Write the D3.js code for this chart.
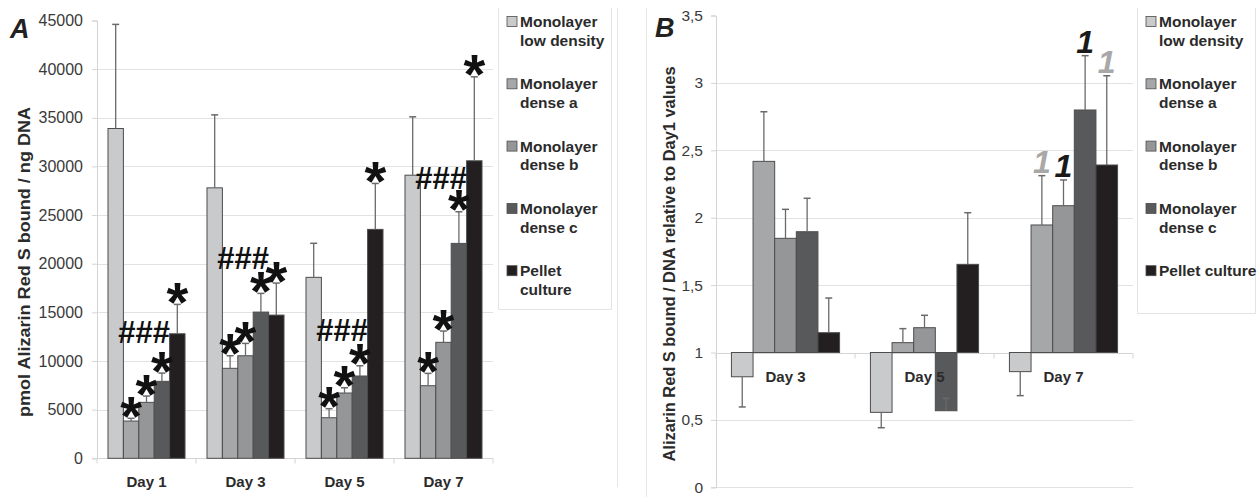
<!DOCTYPE html>
<html>
<head>
<meta charset="utf-8">
<script src="https://cdn.jsdelivr.net/npm/d3@7"></script>
<style>
  html, body { margin: 0; padding: 0; background: #fff; }
  svg { display: block; font-family: "Liberation Sans", Arial, sans-serif; }
</style>
</head>
<body>
<svg id="fig" width="1259" height="497"></svg>
<script>
// ---- data ----
const seriesKeys = ["low", "denseA", "denseB", "denseC", "pellet"];
const seriesColors = ["#c9cacc", "#a6a7a9", "#959698", "#58595b", "#231f20"];

// Panel A: pmol Alizarin Red S bound / ng DNA
const daysA = ["Day 1", "Day 3", "Day 5", "Day 7"];
const lowA    = [33900, 27800, 18600, 29100];
const denseAA = [3830, 9250, 4170, 7460];
const denseBA = [5750, 10540, 6710, 11920];
const denseCA = [7910, 15030, 8460, 22090];
const pelletA = [12800, 14720, 23530, 30580];
// upper end of each error bar
const lowErrA    = [44600, 35300, 22100, 35100];
const denseAErrA = [4110, 10540, 5100, 8730];
const denseBErrA = [6400, 11810, 7250, 13080];
const denseCErrA = [8760, 16950, 9510, 25340];
const pelletErrA = [15820, 18010, 28250, 39210];
// significance: asterisks over these series, "###" at these levels
const starSeriesA = [1, 2, 3, 4];
const hashLevelA = [12980, 20550, 13180, 28800];
const ticksA = [0, 5000, 10000, 15000, 20000, 25000, 30000, 35000, 40000, 45000];

// Panel B: relative to Day 1 values (bars start at 1)
const daysB = ["Day 3", "Day 5", "Day 7"];
const lowB    = [0.82, 0.556, 0.858];
const denseAB = [2.418, 1.073, 1.946];
const denseBB = [1.847, 1.184, 2.089];
const denseCB = [1.896, 0.568, 2.799];
const pelletB = [1.147, 1.654, 2.391];
const lowErrB    = [0.596, 0.442, 0.680];
const denseAErrB = [2.786, 1.177, 2.312];
const denseBErrB = [2.062, 1.276, 2.28];
const denseCErrB = [2.144, 0.66, 3.202];
const pelletErrB = [1.404, 2.037, 3.053];
// "1" marks on Day 7 (series 1..4)
const oneMarkDayB = "Day 7";
const oneMarkToneB = [null, "gray", "black", "black", "gray"];
const ticksB = [0, 0.5, 1, 1.5, 2, 2.5, 3, 3.5];

const legendA = [["Monolayer", "low density"], ["Monolayer", "dense a"], ["Monolayer", "dense b"], ["Monolayer", "dense c"], ["Pellet", "culture"]];
const legendB = [["Monolayer", "low density"], ["Monolayer", "dense a"], ["Monolayer", "dense b"], ["Monolayer", "dense c"], ["Pellet culture"]];

function rows(days, vals, errs) {
  return days.map((d, i) => ({
    day: d,
    bars: seriesKeys.map((k, j) => ({ key: k, idx: j, v: vals[j][i], e: errs[j][i] }))
  }));
}
const dataA = rows(daysA, [lowA, denseAA, denseBA, denseCA, pelletA],
                          [lowErrA, denseAErrA, denseBErrA, denseCErrA, pelletErrA]);
const dataB = rows(daysB, [lowB, denseAB, denseBB, denseCB, pelletB],
                          [lowErrB, denseAErrB, denseBErrB, denseCErrB, pelletErrB]);

const svg = d3.select("#fig");
const GRID = "#e2e2e2", AXIS = "#d4d4d4", TICKTXT = "#3a3a3a";
const BAR_STROKE = "#4d4d4d", ERR = "#6a6a6a";

// panel frames
svg.append("line").attr("x1", 617.5).attr("x2", 617.5).attr("y1", 8).attr("y2", 487)
  .attr("stroke", "#e6e6e6");
svg.append("line").attr("x1", 646.5).attr("x2", 646.5).attr("y1", 8).attr("y2", 497)
  .attr("stroke", "#e6e6e6");

function drawPanel(cfg) {
  const g = svg.append("g");
  const x0 = d3.scaleBand().domain(cfg.days).range(cfg.xr).paddingInner(0.222).paddingOuter(0.111);
  const x1 = d3.scaleBand().domain(seriesKeys).range([0, x0.bandwidth()]);
  const y = d3.scaleLinear().domain(cfg.yd).range(cfg.yr);
  const half = (x0.step() - x0.bandwidth()) / 2;

  // gridlines
  g.append("g").selectAll("line").data(cfg.ticks.filter(t => t !== cfg.yd[1] && t !== cfg.base))
    .join("line")
    .attr("x1", cfg.xr[0]).attr("x2", cfg.xr[1])
    .attr("y1", d => Math.round(y(d)) + 0.5).attr("y2", d => Math.round(y(d)) + 0.5)
    .attr("stroke", GRID).attr("stroke-width", 1);

  // y axis
  const yAxis = d3.axisLeft(y).tickValues(cfg.ticks).tickSize(5).tickPadding(cfg.tickPad).tickFormat(cfg.fmt);
  const ya = g.append("g").attr("transform", `translate(${cfg.xr[0]},0)`).call(yAxis);
  ya.select(".domain").attr("stroke", AXIS);
  ya.selectAll(".tick line").attr("stroke", AXIS);
  ya.selectAll(".tick text").attr("fill", TICKTXT).style("font-size", cfg.tickFont + "px")
    .style("font-family", "'Liberation Sans', Arial, sans-serif");

  // category axis line at base value, with boundary ticks
  const yb = Math.round(y(cfg.base)) + 0.5;
  g.append("line").attr("x1", cfg.xr[0]).attr("x2", cfg.xr[1]).attr("y1", yb).attr("y2", yb)
    .attr("stroke", AXIS);
  const bounds = cfg.days.map(d => x0(d) - half).concat([cfg.xr[1]]);
  g.append("g").selectAll("line").data(bounds).join("line")
    .attr("x1", d => d).attr("x2", d => d).attr("y1", yb).attr("y2", yb + 5)
    .attr("stroke", AXIS);

  // bars
  const grp = g.append("g").selectAll("g").data(cfg.data).join("g")
    .attr("transform", d => `translate(${x0(d.day)},0)`);
  grp.selectAll("rect").data(d => d.bars).join("rect")
    .attr("x", b => x1(b.key))
    .attr("width", x1.bandwidth())
    .attr("y", b => Math.min(y(b.v), y(cfg.base)))
    .attr("height", b => Math.abs(y(b.v) - y(cfg.base)))
    .attr("fill", b => seriesColors[b.idx])
    .attr("stroke", BAR_STROKE).attr("stroke-width", 1);

  // error bars
  const eb = grp.selectAll("g.err").data(d => d.bars).join("g").attr("class", "err");
  eb.append("line")
    .attr("x1", b => x1(b.key) + x1.bandwidth() / 2).attr("x2", b => x1(b.key) + x1.bandwidth() / 2)
    .attr("y1", b => y(b.v)).attr("y2", b => y(b.e))
    .attr("stroke", ERR).attr("stroke-width", 1.3);
  eb.append("line")
    .attr("x1", b => x1(b.key) + x1.bandwidth() / 2 - 3.5).attr("x2", b => x1(b.key) + x1.bandwidth() / 2 + 3.5)
    .attr("y1", b => y(b.e)).attr("y2", b => y(b.e))
    .attr("stroke", ERR).attr("stroke-width", 1.5);

  // category labels
  g.append("g").selectAll("text").data(cfg.days).join("text")
    .attr("x", d => x0(d) + x0.bandwidth() / 2)
    .attr("y", cfg.labelY)
    .attr("text-anchor", "middle")
    .attr("font-weight", "bold").attr("font-size", cfg.dayFont).attr("fill", "#2b2b2b")
    .text(d => d);

  // axis title
  g.append("text")
    .attr("transform", `translate(${cfg.titleX},${cfg.titleY}) rotate(-90)`)
    .attr("text-anchor", "middle")
    .attr("font-weight", "bold").attr("font-size", cfg.titleFont).attr("fill", "#2b2b2b")
    .attr("textLength", cfg.titleLen).attr("lengthAdjust", "spacingAndGlyphs")
    .text(cfg.title);

  // panel letter
  g.append("text").attr("x", cfg.letterX).attr("y", cfg.letterY)
    .attr("font-weight", "bold").attr("font-style", "italic").attr("font-size", 27).attr("fill", "#222")
    .text(cfg.letter);

  // legend
  const lg = g.append("g");
  const L = cfg.legend;
  lg.append("path")
    .attr("d", `M${L.x0 + 0.5},8 V${L.y1 + 0.5} H${L.x1 + 0.5} V8`)
    .attr("fill", "none").attr("stroke", "#e3e3e3");
  cfg.legendItems.forEach((lines, i) => {
    const cy = 21.5 + i * 62.3;
    lg.append("rect").attr("x", L.x0 + 9).attr("y", cy - 5).attr("width", 10).attr("height", 10)
      .attr("fill", seriesColors[i]).attr("stroke", BAR_STROKE).attr("stroke-width", 0.8);
    lines.forEach((t, k) => {
      lg.append("text").attr("x", L.x0 + 22).attr("y", cy + k * 18.7 + 5.5)
        .attr("font-weight", "bold").attr("font-size", 15.5).attr("fill", "#2b2b2b").text(t);
    });
  });

  return { g, x0, x1, y };
}

// ---- Panel A ----
const A = drawPanel({
  days: daysA, data: dataA, xr: [97, 493], yd: [0, 45000], yr: [458.3, 20.5], base: 0,
  ticks: ticksA, fmt: d3.format("d"), tickPad: 9, tickFont: 16,
  labelY: 487, dayFont: 15,
  title: "pmol Alizarin Red S bound / ng DNA", titleX: 30, titleY: 262, titleFont: 17, titleLen: 310,
  letter: "A", letterX: 10, letterY: 38,
  legend: { x0: 498, x1: 611, y1: 309 }, legendItems: legendA
});

// asterisks above error bars
const STAR = 56;
dataA.forEach(row => {
  row.bars.filter(b => starSeriesA.includes(b.idx)).forEach(b => {
    const cx = A.x0(row.day) + A.x1(b.key) + A.x1.bandwidth() / 2;
    const cy = A.y(b.e) - 12;
    A.g.append("text").attr("x", cx).attr("y", cy + 0.6 * STAR - 5)
      .attr("text-anchor", "middle").attr("font-weight", "bold").attr("font-size", STAR)
      .attr("fill", "#111").text("*");
  });
});
// "###" ending at the pellet bar
dataA.forEach((row, i) => {
  const xr = A.x0(row.day) + A.x1("pellet");
  A.g.append("text").attr("x", xr).attr("y", A.y(hashLevelA[i]) + 11)
    .attr("text-anchor", "end").attr("font-weight", "bold").attr("font-style", "italic")
    .attr("font-size", 31).attr("fill", "#111").text("###");
});

// ---- Panel B ----
const fmtB = d3.formatLocale({ decimal: ",", thousands: ".", grouping: [3], currency: ["", ""] }).format(".1~f");
const B = drawPanel({
  days: daysB, data: dataB, xr: [716, 1133], yd: [0, 3.5], yr: [487.3, 15.5], base: 1,
  ticks: ticksB, fmt: fmtB, tickPad: 8, tickFont: 15.5,
  labelY: 382, dayFont: 15,
  title: "Alizarin Red S bound /  DNA relative to Day1 values", titleX: 675, titleY: 264, titleFont: 16, titleLen: 395,
  letter: "B", letterX: 655, letterY: 37,
  legend: { x0: 1137, x1: 1255, y1: 313 }, legendItems: legendB
});
// "1" marks over the Day 7 error bars
dataB.filter(r => r.day === oneMarkDayB).forEach(row => {
  row.bars.forEach(b => {
    const tone = oneMarkToneB[b.idx];
    if (!tone) return;
    const cx = B.x0(row.day) + B.x1(b.key) + B.x1.bandwidth() / 2;
    B.g.append("text").attr("x", cx).attr("y", B.y(b.e) - 2.5)
      .attr("text-anchor", "middle").attr("font-weight", "bold").attr("font-style", "italic")
      .attr("font-size", 32).attr("fill", tone === "gray" ? "#a8a8a8" : "#1a1a1a").text("1");
  });
});
</script>
</body>
</html>
